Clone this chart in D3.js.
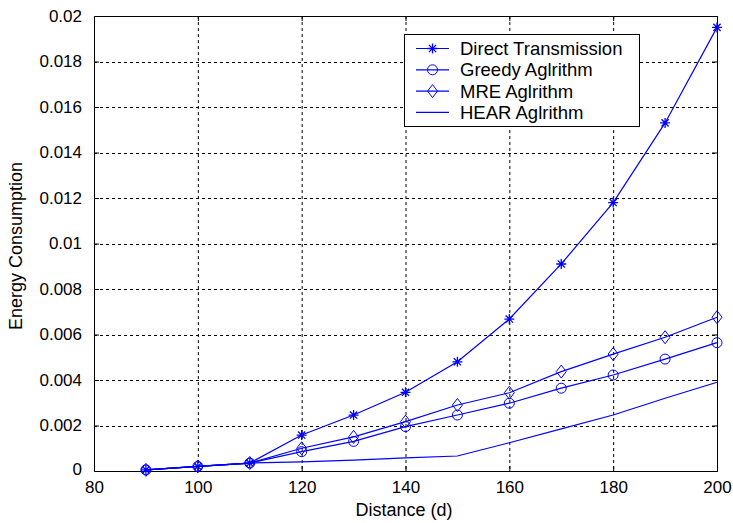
<!DOCTYPE html>
<html>
<head>
<meta charset="utf-8">
<script src="https://cdn.jsdelivr.net/npm/d3@7"></script>
<style>
  body { margin: 0; background: #fff; }
  svg { display: block; font-family: "Liberation Sans", Arial, sans-serif; }
  .grid line { stroke: #000; stroke-dasharray: 3,3; }
</style>
</head>
<body>
<svg id="chart" width="733" height="523"></svg>
<script>

var distance = [ 90, 100, 110, 120, 130, 140, 150, 160, 170, 180, 190, 200 ];

var directTx = [ 0.00005, 0.0002, 0.00035, 0.00158, 0.00246, 0.00346, 0.0048, 0.00668, 0.0091, 0.0118, 0.0153, 0.0195 ];
var greedy   = [ 0.00005, 0.0002, 0.00035, 0.00085, 0.0013, 0.00195, 0.00246, 0.00298, 0.00364, 0.00422, 0.00492, 0.00564 ];
var mre      = [ 0.00005, 0.0002, 0.00035, 0.001, 0.0015, 0.00217, 0.0029, 0.00344, 0.00437, 0.00514, 0.00588, 0.00676 ];
var hear     = [ 0.00005, 0.0002, 0.00035, 0.0004, 0.00048, 0.00058, 0.00066, 0.00124, 0.00185, 0.00246, 0.0032, 0.0039 ];

var xTicks = [ 80, 100, 120, 140, 160, 180, 200 ];
var yTicks = [ 0, 0.002, 0.004, 0.006, 0.008, 0.01, 0.012, 0.014, 0.016, 0.018, 0.02 ];

var seriesNames = [ 'Direct Transmission', 'Greedy Aglrithm', 'MRE Aglrithm', 'HEAR Aglrithm' ];
var seriesData  = [ directTx, greedy, mre, hear ];
var seriesMarks = [ 'star', 'circle', 'diamond', 'none' ];

var settings = { left: 94, right: 16, top: 16, bottom: 52, width: 733, height: 523 };
var blue = '#0000ff';

var svg = d3.select('#chart');
var innerW = settings.width - settings.left - settings.right;
var innerH = settings.height - settings.top - settings.bottom;

var scaleX = d3.scaleLinear().domain([ 80, 200 ]).range([ 0, innerW ]);
var scaleY = d3.scaleLinear().domain([ 0, 0.02 ]).range([ innerH, 0 ]);

var plot = svg.append('g')
  .attr('transform', 'translate(' + settings.left + ',' + settings.top + ')');

// dashed grid
var grid = plot.append('g').classed('grid', true);
grid.selectAll('.gx')
  .data( xTicks.slice(1, -1) )
  .enter().append('line')
  .attr('x1', function(d) { return scaleX(d) + 0.5 })
  .attr('x2', function(d) { return scaleX(d) + 0.5 })
  .attr('y1', 0).attr('y2', innerH);
grid.selectAll('.gy')
  .data( yTicks.slice(1, -1) )
  .enter().append('line')
  .attr('y1', function(d) { return Math.round(scaleY(d)) + 0.5 })
  .attr('y2', function(d) { return Math.round(scaleY(d)) + 0.5 })
  .attr('x1', 0).attr('x2', innerW);

// axes, ticks inward, mirrored on top / right
var axisBottom = d3.axisBottom(scaleX).tickValues(xTicks).tickSizeInner(-5).tickSizeOuter(0).tickPadding(10);
var axisLeft = d3.axisLeft(scaleY).tickValues(yTicks).tickSizeInner(-5).tickSizeOuter(0).tickPadding(12)
  .tickFormat(function(d) { return d === 0 ? '0' : d3.format('')(+d.toFixed(3)) });

var gx = plot.append('g').attr('transform', 'translate(0,' + innerH + ')').call(axisBottom);
var gy = plot.append('g').call(axisLeft);
plot.append('g').call(d3.axisTop(scaleX).tickValues(xTicks).tickSizeInner(-5).tickSizeOuter(0).tickFormat(''));
plot.append('g').attr('transform', 'translate(' + innerW + ',0)')
  .call(d3.axisRight(scaleY).tickValues(yTicks).tickSizeInner(-5).tickSizeOuter(0).tickFormat(''));

plot.selectAll('.domain').remove();
plot.selectAll('.tick line').attr('stroke', '#000');
gx.selectAll('.tick text').attr('font-size', 17).attr('fill', '#000').attr('font-family', null);
gy.selectAll('.tick text').attr('font-size', 17).attr('fill', '#000').attr('font-family', null);
gy.selectAll('.tick')
  .filter(function(d) { return d === 0 })
  .select('text').attr('dy', '0.18em');

plot.append('rect')
  .attr('x', 0.5).attr('y', 0.5)
  .attr('width', innerW).attr('height', innerH)
  .attr('fill', 'none').attr('stroke', '#000');

// series
var line = d3.line()
  .x(function(d) { return scaleX(d[0]) })
  .y(function(d) { return scaleY(d[1]) });

function drawMarker( g, type, x, y ) {
  if ( type === 'circle' ) {
    g.append('ellipse').attr('cx', x).attr('cy', y).attr('rx', 5).attr('ry', 5)
      .attr('fill', 'none').attr('stroke', blue);
  } else if ( type === 'diamond' ) {
    g.append('path')
      .attr('d', 'M' + x + ',' + (y - 6.5) + 'L' + (x + 5) + ',' + y + 'L' + x + ',' + (y + 6.5) + 'L' + (x - 5) + ',' + y + 'Z')
      .attr('fill', 'none').attr('stroke', blue);
  } else if ( type === 'star' ) {
    var r = 5, q = 3.6;
    g.append('path')
      .attr('d', 'M' + (x - r) + ',' + y + 'H' + (x + r) +
                 'M' + x + ',' + (y - r) + 'V' + (y + r) +
                 'M' + (x - q) + ',' + (y - q) + 'L' + (x + q) + ',' + (y + q) +
                 'M' + (x - q) + ',' + (y + q) + 'L' + (x + q) + ',' + (y - q))
      .attr('fill', 'none').attr('stroke', blue).attr('stroke-width', 1.3);
  }
}

seriesData.forEach(function( vals, s ) {
  var pts = distance.map(function(d, i) { return [ d, vals[i] ] });
  var g = plot.append('g');
  g.append('path')
    .attr('d', line(pts))
    .attr('fill', 'none')
    .attr('stroke', blue)
    .attr('stroke-width', 1.2);
  pts.forEach(function(p) {
    drawMarker( g, seriesMarks[s], scaleX(p[0]), scaleY(p[1]) );
  });
});

// axis titles
svg.append('text')
  .attr('x', 404)
  .attr('y', 516)
  .attr('text-anchor', 'middle')
  .attr('font-size', 18)
  .text('Distance (d)');

svg.append('text')
  .attr('transform', 'translate(22,246) rotate(-90)')
  .attr('text-anchor', 'middle')
  .attr('font-size', 18)
  .text('Energy Consumption');

// legend
var legend = svg.append('g').attr('transform', 'translate(404,34)');
legend.append('rect')
  .attr('x', 0.5).attr('y', 0.5)
  .attr('width', 235).attr('height', 92)
  .attr('fill', '#fff').attr('stroke', '#000');

seriesNames.forEach(function( name, i ) {
  var cy = 14.5 + i * 21.3;
  var row = legend.append('g');
  row.append('line')
    .attr('x1', 12).attr('x2', 45)
    .attr('y1', cy).attr('y2', cy)
    .attr('stroke', blue).attr('stroke-width', 1.2);
  drawMarker( row, seriesMarks[i], 28.5, cy );
  row.append('text')
    .attr('x', 56).attr('y', cy + 6.5)
    .attr('font-size', 18.5)
    .text(name);
});

</script>
</body>
</html>
